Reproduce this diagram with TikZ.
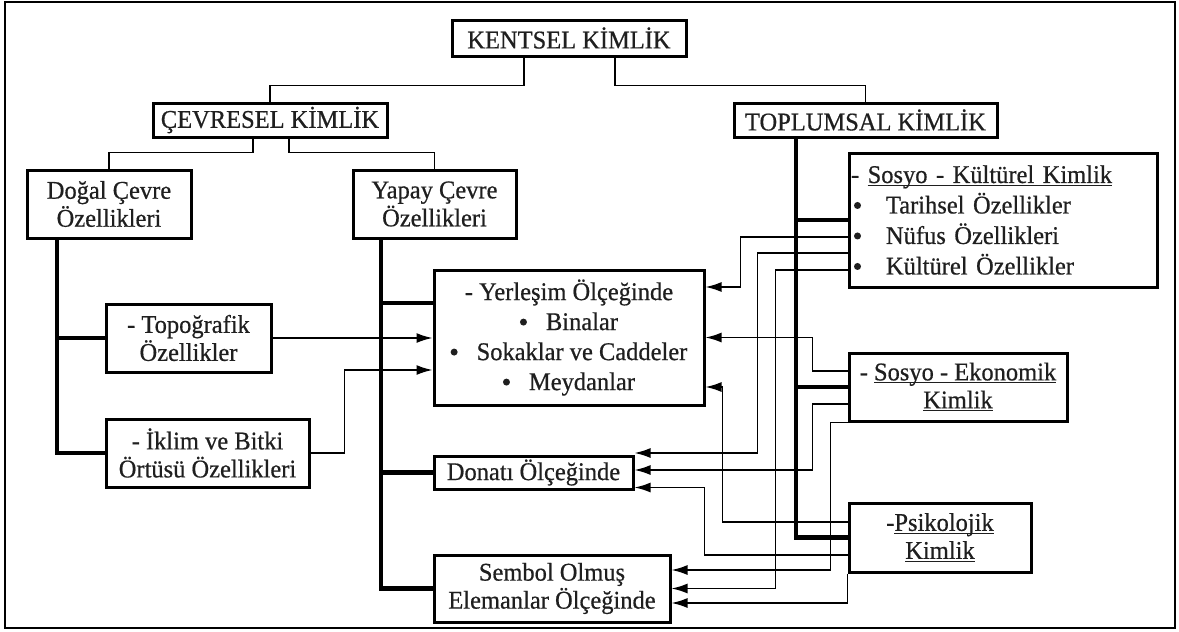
\documentclass[tikz,border=0pt]{standalone}
\usepackage{fontspec}
\setmainfont{Liberation Serif}[FakeStretch=0.96,FakeBold=0.6]
\usetikzlibrary{arrows.meta}
\newsavebox{\ulbox}
\newcommand{\myul}[1]{\sbox{\ulbox}{#1}\rlap{\rule[-3pt]{\wd\ulbox}{1.2pt}}\usebox{\ulbox}}
\newcommand{\bul}{\tikz[baseline=-8pt]{\fill[black!88] (0,0) circle[radius=3.5pt];}}
\begin{document}
\begin{tikzpicture}[x=1pt,y=-1pt,
  box/.style={draw, line width=3pt, inner sep=0pt, align=center,
    font=\fontsize{25.5}{28}\selectfont, text=black!88},
  conn/.style={line width=1.7pt},
  thickline/.style={line width=4.6pt},
  arr/.style={line width=1.7pt, -{Latex[length=16pt,width=10pt]}}]
\useasboundingbox (0,0) rectangle (1179,632);
\draw[line width=2.5pt] (5,2) rectangle (1175,628);

% nodes
\node[box, minimum width=234pt, minimum height=36pt] (kent) at (569,38) {KENTSEL KİMLİK};
\node[box, minimum width=234pt, minimum height=34pt] (cev) at (270,120) {ÇEVRESEL KİMLİK};
\node[box, minimum width=263pt, minimum height=34pt] (top) at (865.5,120) {TOPLUMSAL KİMLİK};
\node[box, minimum width=164pt, minimum height=68pt] (dogal) at (109,204) {Doğal Çevre\\Özellikleri};
\node[box, minimum width=163pt, minimum height=68pt] (yapay) at (434.5,204) {Yapay Çevre\\Özellikleri};
\node[box, minimum width=165pt, minimum height=68pt] (topo) at (188.5,338) {- Topoğrafik\\Özellikler};
\node[box, minimum width=203pt, minimum height=68pt] (iklim) at (207.5,453) {- İklim ve Bitki\\Örtüsü Özellikleri};
\node[box, minimum width=270pt, minimum height=135pt, font=\fontsize{25.5}{30}\selectfont] (yer) at (569,337.5)
  {- Yerleşim Ölçeğinde\\\bul\hspace{19pt}Binalar\\\bul\hspace{19pt}Sokaklar ve Caddeler\\\bul\hspace{19pt}Meydanlar};
\node[box, minimum width=199pt, minimum height=33pt] (don) at (533.5,472.5) {Donatı Ölçeğinde};
\node[box, minimum width=236pt, minimum height=67pt] (sem) at (552,588.5) {Sembol Olmuş\\Elemanlar Ölçeğinde};
\node[box, align=left, text width=304pt, inner xsep=2pt, minimum height=134pt, font=\fontsize{25.5}{30.5}\selectfont] (sk) at (1003,220)
  {- \myul{Sosyo - Kültürel Kimlik}\\\hspace{3pt}\bul\hspace{25pt}Tarihsel Özellikler\\\hspace{3pt}\bul\hspace{25pt}Nüfus Özellikleri\\\hspace{3pt}\bul\hspace{25pt}Kültürel Özellikler};
\node[box, minimum width=218pt, minimum height=68pt] (se) at (958,387) {- \myul{Sosyo - Ekonomik}\\\myul{Kimlik}};
\node[box, minimum width=182pt, minimum height=69pt] (psi) at (940,537.5) {-\myul{Psikolojik}\\\myul{Kimlik}};

% tree connectors
\draw[conn] ([xshift=-45pt]kent.south) |- ([yshift=16pt]cev.north) -- (cev.north);
\draw[conn] ([xshift=46pt]kent.south) |- ([yshift=16pt]top.north) -- (top.north);
\draw[conn] ([xshift=-17pt]cev.south) |- ([yshift=16pt]dogal.north) -- (dogal.north);
\draw[conn] ([xshift=19pt]cev.south) |- ([yshift=16pt]yapay.north) -- (yapay.north);

% thick branches
\draw[thickline] ([xshift=-52pt]dogal.south) coordinate (dv) |- (iklim.west);
\draw[thickline] (topo.west) -- (topo.west -| dv);
\draw[thickline] ([xshift=-53.5pt]yapay.south) |- (sem.west);
\draw[thickline] ([yshift=34.5pt]yer.west) -- ++(-53,0);
\draw[thickline] (don.west) -- ++(-53,0);
\draw[thickline] ([xshift=-69.5pt]top.south) |- (psi.west);
\draw[thickline] (sk.west) -- ++(-53,0);
\draw[thickline] (se.west) -- ++(-53,0);

% left arrows
\draw[arr] (topo.east) -- (topo.east -| yer.west);
\draw[arr] (iklim.east) -- ++(34,0) |- ([yshift=-32.5pt]yer.west);

% right arrows
\draw[arr] ([yshift=-17pt]sk.west) -- ++(-107,0) |- ([yshift=50.5pt]yer.east);
\draw[arr] ([yshift=-33pt]sk.west) -- ++(-90,0) |- ([yshift=19.5pt]don.east);
\draw[arr] ([yshift=-50pt]sk.west) -- ++(-72,0) |- (sem.east);
\draw[arr] ([yshift=16pt]se.west) -- ++(-35,0) |- (yer.east);
\draw[arr] ([yshift=-17pt]se.west) -- ++(-35,0) |- ([yshift=2.5pt]don.east);
\draw[arr] (se.south west) -- ++(-17,0) |- ([yshift=18.5pt]sem.east);
\draw[arr] ([yshift=15.5pt]psi.west) -- ++(-125,0) |- ([yshift=-49.5pt]yer.east);
\draw[arr] ([yshift=-17.5pt]psi.west) -- ++(-143,0) |- ([yshift=-15pt]don.east);
\draw[arr] (psi.south west) |- ([yshift=-14.5pt]sem.east);
\end{tikzpicture}
\end{document}
